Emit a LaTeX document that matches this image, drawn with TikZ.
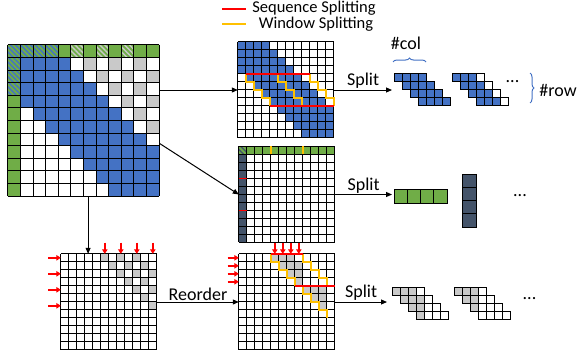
\documentclass[tikz,border=0pt]{standalone}
\usepackage{fontspec}
\setmainfont{Carlito}
\usetikzlibrary{arrows.meta,patterns.meta,decorations.pathreplacing,calc}
\definecolor{bandblue}{HTML}{4472C4}
\definecolor{globgreen}{HTML}{70AD47}
\definecolor{strdgray}{HTML}{C9C9C9}
\definecolor{slate}{HTML}{44546A}
\definecolor{winyellow}{HTML}{FFC000}
\definecolor{seqred}{HTML}{FF0000}

\begin{document}
\begin{tikzpicture}[x=1pt, y=-1pt,
        matbox/.style={inner sep=0, minimum size=96pt},
        gridline/.style={line width=0.7pt},
        hatch/.style={fill=globgreen, postaction={pattern={Lines[angle=-45,distance=3.5pt,line width=1.4pt]}, pattern color=#1}},
        arrow/.style={-{Triangle[length=6pt,width=5pt]}, line width=1pt},
        redarrow/.style={-{Triangle[length=4.5pt,width=5.5pt]}, line width=1.8pt, seqred},
        seqline/.style={draw=seqred, line width=1.5pt},
        winline/.style={draw=winyellow, line width=1.4pt},
        lbl/.style={font=\fontsize{18}{20}\selectfont},
        legend/.style={font=\fontsize{16.5}{18}\selectfont},
        cbrace/.style={decorate, decoration={brace, amplitude=4pt}, bandblue, line width=1pt}
    ]
    \useasboundingbox (0,0) rectangle (578,356);

    % Legend
    \draw[seqline] (222,9) -- (246,9);
    \node[legend] (seqleg) at (314,8) {Sequence Splitting};
    \draw[winline] (222,24) -- (246,24);
    \node[legend] (winleg) at (316,24) {Window Splitting};

    % Full mask
    \node[matbox, minimum size=151.2pt] (full) at (83.6,120.6) {};
    \begin{scope}[shift={(full.north west)}, x=12.6pt, y=-12.6pt]
        \foreach \r in {1,...,11}
            \foreach \c in {1,...,11} {
                \pgfmathtruncatemacro\d{abs(\c-\r)}
                \ifnum\d<4 \fill[bandblue] (\c,\r) rectangle ++(1,1); \fi
            }
        \foreach \r in {1,...,6}
            \foreach \k in {5,7,9} {
                \pgfmathtruncatemacro\cc{\r+\k}
                \ifnum\cc<12 \fill[strdgray] (\cc,\r) rectangle ++(1,1); \fi
            }
        \fill[globgreen] (0,0) rectangle (12,1) (0,1) rectangle (1,12);
        \foreach \c in {0,...,3} \fill[hatch=bandblue] (\c,0) rectangle ++(1,1);
        \foreach \r in {1,2,3} \fill[hatch=bandblue] (0,\r) rectangle ++(1,1);
        \foreach \c in {5,7,9} \fill[hatch=strdgray] (\c,0) rectangle ++(1,1);
        \foreach \i in {0,...,12} \draw[gridline] (\i,0) -- (\i,12) (0,\i) -- (12,\i);
    \end{scope}

    % Sliding window part
    \node[matbox] (win) at (286,90) {};
    \begin{scope}[shift={(win.north west)}, x=8pt, y=-8pt]
        \foreach \r in {0,...,11}
            \foreach \c in {0,...,11} {
                \pgfmathtruncatemacro\d{abs(\c-\r)}
                \ifnum\d<4 \fill[bandblue] (\c,\r) rectangle ++(1,1); \fi
            }
        \foreach \i in {0,...,12} \draw[gridline] (\i,0) -- (\i,12) (0,\i) -- (12,\i);
        \foreach \o in {1,5,9}
            \draw[winline] (\o,4) -- ++(0,1) -- ++(1,0) -- ++(0,1) -- ++(1,0) -- ++(0,1) -- ++(1,0) -- ++(0,1);
        \draw[seqline] (1,4) -- (9,4) (4,8) -- (12,8);
    \end{scope}

    % Global part
    \node[matbox] (glob) at (287,194.5) {};
    \begin{scope}[shift={(glob.north west)}, x=8pt, y=-8pt]
        \fill[globgreen] (1,0) rectangle (12,1);
        \fill[slate] (0,1) rectangle (1,12);
        \fill[hatch=slate] (0,0) rectangle (1,1);
        \foreach \i in {0,...,12} \draw[gridline] (\i,0) -- (\i,12) (0,\i) -- (12,\i);
        \draw[winline] (4,0) -- (4,1) (8,0) -- (8,1);
        \draw[seqline] (0,4) -- (1,4) (0,8) -- (1,8);
    \end{scope}

    % Strided part
    \node[matbox] (strd) at (109,302) {};
    \begin{scope}[shift={(strd.north west)}, x=8pt, y=-8pt]
        \foreach \r in {0,...,6}
            \foreach \k in {5,7,9} {
                \pgfmathtruncatemacro\cc{\r+\k}
                \ifnum\cc<12 \fill[strdgray] (\cc,\r) rectangle ++(1,1); \fi
            }
        \foreach \i in {0,...,12} \draw[gridline] (\i,0) -- (\i,12) (0,\i) -- (12,\i);
        \foreach \c in {5,7,9,11} \draw[redarrow] (\c+0.5,-1.4) -- (\c+0.5,0);
        \foreach \r in {0,2,4,6} \draw[redarrow] (-1.6,\r+0.5) -- (0,\r+0.5);
    \end{scope}

    % Reordered strided part
    \node[matbox] (reord) at (287,302) {};
    \begin{scope}[shift={(reord.north west)}, x=8pt, y=-8pt]
        \foreach \c/\r in {4/0,5/0,6/0,5/1,6/1,7/1,6/2,7/2,7/3,8/4,9/4,10/4,9/5,10/5,10/6}
            \fill[strdgray] (\c,\r) rectangle ++(1,1);
        \foreach \i in {0,...,12} \draw[gridline] (\i,0) -- (\i,12) (0,\i) -- (12,\i);
        \foreach \o/\t in {4/0,8/0,8/4}
            \draw[winline] (\o,\t) -- ++(0,1) -- ++(1,0) -- ++(0,1) -- ++(1,0) -- ++(0,1) -- ++(1,0) -- ++(0,1);
        \draw[seqline] (4,0) -- (8,0) (7,4) -- (12,4);
        \foreach \c in {4,...,7} \draw[redarrow] (\c+0.5,-1.4) -- (\c+0.5,0);
        \foreach \r in {0,...,3} \draw[redarrow] (-1.4,\r+0.5) -- (0,\r+0.5);
    \end{scope}

    % Connectors
    \draw[arrow] (full.east |- win.west) -- (win.west);
    \draw[arrow] ($(full.north east)!0.65!(full.south east)$) -- (glob.west);
    \coordinate (drop) at ([xshift=4.5pt]full.south);
    \draw[arrow] (drop) -- (drop |- strd.north);
    \draw[arrow] (strd.east) -- node[lbl, above, inner sep=1pt] (reolbl) {Reorder} (reord.west);

    \coordinate (winend) at (392,90);
    \coordinate (globend) at (392,194.5);
    \coordinate (reordend) at (387,302);
    \draw[arrow] (win.east) -- node[lbl, above, inner sep=1pt] (split1) {Split} (winend);
    \draw[arrow] (glob.east) -- node[lbl, above, inner sep=1pt] (split2) {Split} (globend);
    \draw[arrow] (reord.east) -- node[lbl, above, inner sep=1pt] (split3) {Split} (reordend);

    % Window blocks
    \begin{scope}[shift={(394,73)}, x=8pt, y=-8pt]
        \foreach \r in {0,...,3}
            \foreach \c in {0,...,3}
                \draw[gridline, fill=bandblue] (\r+\c,\r) rectangle ++(1,1);
    \end{scope}
    \begin{scope}[shift={(452,73)}, x=8pt, y=-8pt]
        \foreach \r in {0,...,3} {
            \foreach \c in {0,1,2}
                \draw[gridline, fill=bandblue] (\r+\c,\r) rectangle ++(1,1);
            \draw[gridline, fill=white] (\r+3,\r) rectangle ++(1,1);
        }
    \end{scope}
    \draw[cbrace] (393,62) -- (426,62);
    \node[lbl] (ncol) at (406,43) {\#col};
    \draw[cbrace] (530,73) -- (530,103);
    \node[lbl] (nrow) at (558,90) {\#row};
    \node[lbl] (dots1) at (512.5,82) {...};

    % Global blocks
    \begin{scope}[shift={(394,189)}, x=13.25pt, y=-14pt]
        \foreach \c in {0,...,3} \draw[gridline, fill=globgreen] (\c,0) rectangle ++(1,1);
    \end{scope}
    \begin{scope}[shift={(462,174)}, x=14pt, y=-13.25pt]
        \foreach \r in {0,...,3} \draw[gridline, fill=slate] (0,\r) rectangle ++(1,1);
    \end{scope}
    \node[lbl] (dots2) at (520,196) {...};

    % Strided blocks
    \begin{scope}[shift={(392,287.5)}, x=8pt, y=-8pt]
        \foreach \r/\n in {0/3,1/3,2/2,3/1}
            \foreach \c in {0,...,3} {
                \ifnum\c<\n \draw[gridline, fill=strdgray] (\r+\c,\r) rectangle ++(1,1);
                \else \draw[gridline, fill=white] (\r+\c,\r) rectangle ++(1,1); \fi
            }
    \end{scope}
    \begin{scope}[shift={(454,287.5)}, x=8pt, y=-8pt]
        \foreach \r/\n in {0/3,1/2,2/1,3/0}
            \foreach \c in {0,...,3} {
                \ifnum\c<\n \draw[gridline, fill=strdgray] (\r+\c,\r) rectangle ++(1,1);
                \else \draw[gridline, fill=white] (\r+\c,\r) rectangle ++(1,1); \fi
            }
    \end{scope}
    \node[lbl] (dots3) at (529.5,299) {...};
\end{tikzpicture}
\end{document}
